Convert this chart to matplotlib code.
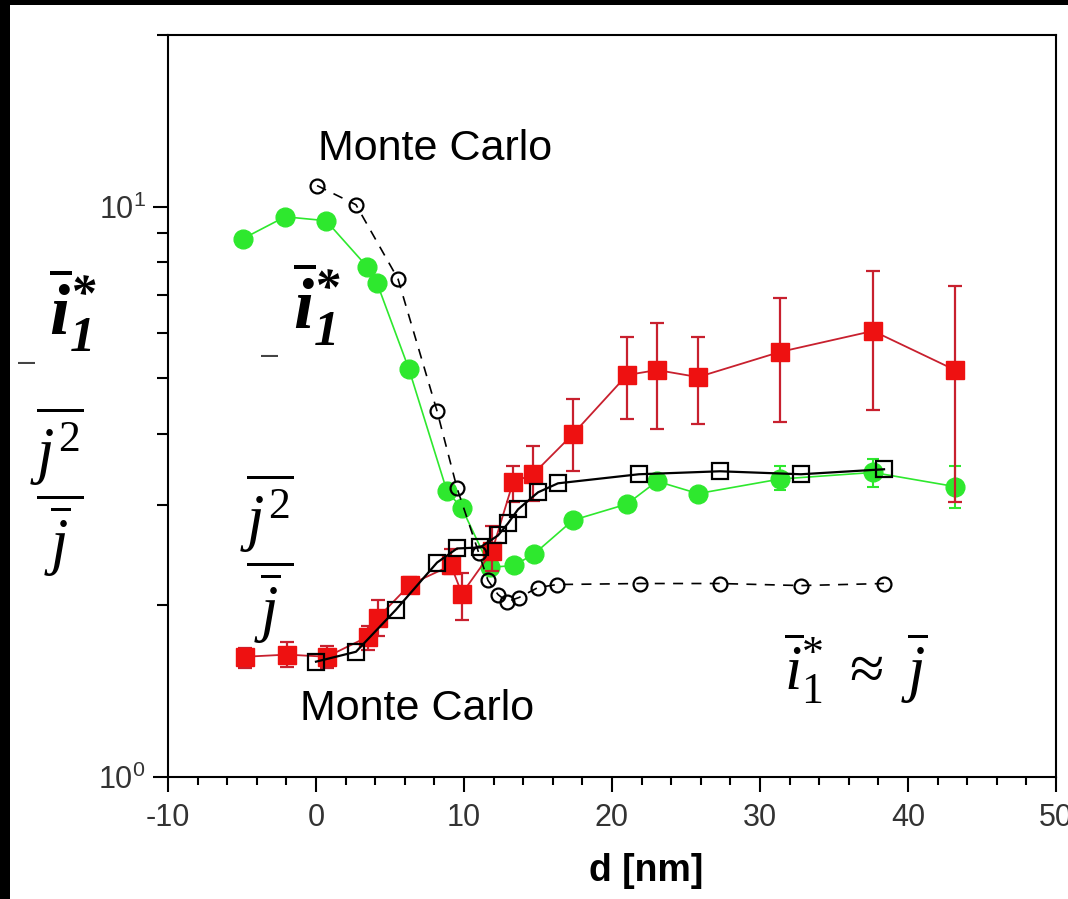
import matplotlib.pyplot as plt
import numpy as np
from matplotlib.patches import Rectangle
from matplotlib.ticker import LogLocator, MultipleLocator, NullFormatter

plt.rcParams['font.family'] = ['Liberation Sans', 'DejaVu Sans']
plt.rcParams['axes.unicode_minus'] = False
plt.rcParams['mathtext.fontset'] = 'custom'
plt.rcParams['mathtext.rm'] = 'Liberation Serif'
plt.rcParams['mathtext.it'] = 'Liberation Serif:italic'
plt.rcParams['mathtext.bf'] = 'Liberation Serif:italic:bold'

# experiment, i1* (green, filled circles)
green_x = np.array([-4.93, -2.09, 0.68, 3.45, 4.12, 6.28, 8.85, 9.86, 11.76,
                    13.38, 14.73, 17.36, 21.01, 23.04, 25.81, 31.35, 37.64, 43.18])
green_y = np.array([8.79, 9.60, 9.45, 7.85, 7.35, 5.19, 3.17, 2.96, 2.33,
                    2.35, 2.46, 2.82, 3.01, 3.30, 3.14, 3.33, 3.42, 3.23])
green_lo = np.array([np.nan] * 15 + [3.19, 3.23, 2.96])
green_hi = np.array([np.nan] * 15 + [3.51, 3.61, 3.51])

# experiment, j^2/j (red, filled squares)
red_x = np.array([-4.80, -1.96, 0.74, 3.51, 4.19, 6.35, 9.12, 9.86, 11.89,
                  13.31, 14.66, 17.36, 21.01, 23.04, 25.81, 31.35, 37.64, 43.18])
red_y = np.array([1.625, 1.639, 1.625, 1.762, 1.903, 2.175, 2.349, 2.097, 2.486,
                  3.287, 3.395, 3.992, 5.067, 5.171, 5.026, 5.563, 6.055, 5.171])
red_lo = np.array([1.554, 1.561, 1.554, 1.672, 1.769, 2.105, 2.265, 1.888, 2.293,
                   3.030, 3.043, 3.436, 4.241, 4.073, 4.156, 4.190, 4.399, 3.030])
red_hi = np.array([1.686, 1.727, 1.699, 1.843, 2.047, 2.246, 2.506, 2.283, 2.751,
                   3.510, 3.802, 4.598, 5.908, 6.254, 5.908, 6.921, 7.719, 7.264])

# Monte Carlo, j^2/j (open squares)
mc_sq_x = [0.0, 2.70, 5.41, 8.18, 9.53, 11.08, 12.30, 12.97, 13.65, 15.0, 16.35,
           21.82, 27.30, 32.77, 38.38]
mc_sq_y = [1.593, 1.658, 1.966, 2.377, 2.516, 2.526, 2.652, 2.784, 2.946, 3.156,
           3.273, 3.395, 3.436, 3.395, 3.464]

# Monte Carlo, i1* (open circles)
mc_ci_x = [0.07, 2.70, 5.54, 8.18, 9.53, 11.01, 11.62, 12.30, 12.91, 13.72, 15.0,
           16.28, 21.89, 27.30, 32.77, 38.38]
mc_ci_y = [10.89, 10.08, 7.47, 4.38, 3.21, 2.466, 2.211, 2.089, 2.030, 2.064, 2.149,
           2.175, 2.184, 2.184, 2.166, 2.184]

GREEN = '#2ee82e'
RED = '#ee1111'
DARKRED = '#c8202e'

fig = plt.figure(figsize=(10.68, 8.99), dpi=100)
fig.patch.set_facecolor('black')
fig.add_artist(Rectangle((10 / 1068, 0), 1, 1 - 5 / 899, transform=fig.transFigure,
                         facecolor='white', edgecolor='none', zorder=-10))

ax = fig.add_axes([168 / 1068, 1 - 777 / 899, 888 / 1068, 742 / 899])

ax.plot(green_x, green_y, '-o', color=GREEN, lw=1.2, ms=13.5, mec=GREEN, zorder=2)
m = ~np.isnan(green_lo)
ax.errorbar(green_x[m], green_y[m], yerr=[green_y[m] - green_lo[m], green_hi[m] - green_y[m]],
            fmt='none', ecolor=GREEN, elinewidth=1.5, capsize=4, capthick=1.5, zorder=2)

ax.errorbar(red_x, red_y, yerr=[red_y - red_lo, red_hi - red_y], fmt='s-', color=DARKRED,
            lw=1.3, mfc=RED, mec=RED, ms=13, ecolor=DARKRED, elinewidth=1.6,
            capsize=5, capthick=1.6, zorder=3)

ax.plot(mc_ci_x, mc_ci_y, 'o', ls=(0, (6, 5)), color='black', lw=1.2, ms=10,
        mfc='none', mew=1.6, zorder=4)
ax.plot(mc_sq_x, mc_sq_y, 's-', color='black', lw=1.6, ms=11.5, mfc='none',
        mew=1.6, zorder=5)

ax.set_yscale('log')
ax.set_xlim(-10, 50)
ax.set_ylim(1, 20)
ax.xaxis.set_major_locator(MultipleLocator(10))
ax.xaxis.set_minor_locator(MultipleLocator(2))
ax.yaxis.set_major_locator(LogLocator(base=10))
ax.yaxis.set_minor_locator(LogLocator(base=10, subs=np.arange(2, 10)))
ax.yaxis.set_minor_formatter(NullFormatter())

ax.tick_params(which='both', direction='out', top=False, right=False,
               width=1.5, colors='black', labelcolor='#333333', labelsize=22)
ax.tick_params(axis='x', which='major', length=11, pad=8)
ax.tick_params(axis='x', which='minor', length=6)
ax.tick_params(axis='y', which='major', length=11, pad=5)
ax.tick_params(axis='y', which='minor', length=8)
for s in ax.spines.values():
    s.set_linewidth(1.5)

ax.set_xlabel('d [nm]', fontsize=27, fontweight='bold')
ax.xaxis.set_label_coords(0.539, -0.103)

ax.text(0.169, 0.8315, 'Monte Carlo', transform=ax.transAxes, fontsize=31,
        ha='left', va='baseline')
ax.text(0.1486, 0.0768, 'Monte Carlo', transform=ax.transAxes, fontsize=31,
        ha='left', va='baseline')

i1 = r'$\overline{\mathbf{i}}_{\mathbf{1}}^{\mathbf{*}}$'
frac = r'$\dfrac{\overline{j^{2}}}{\overline{j}}$'
fig.text(0.0684, 0.655, i1, fontsize=52, ha='center', va='center')
fig.text(0.2968, 0.6618, i1, fontsize=52, ha='center', va='center')
fig.text(0.0534, 0.4527, frac, fontsize=45, ha='center', va='center')
fig.text(0.25, 0.3782, frac, fontsize=45, ha='center', va='center')
fig.text(0.8006, 0.257, r'$\overline{i}_{\mathit{1}}^{*}\ \approx\ \overline{j}$',
         fontsize=45, ha='center', va='center')
fig.text(0.0253, 0.5962, '–', fontsize=22, color='#444444', ha='center', va='center')
fig.text(0.2528, 0.604, '–', fontsize=22, color='#444444', ha='center', va='center')

fig.savefig('out.png', dpi=100, facecolor=fig.get_facecolor())
